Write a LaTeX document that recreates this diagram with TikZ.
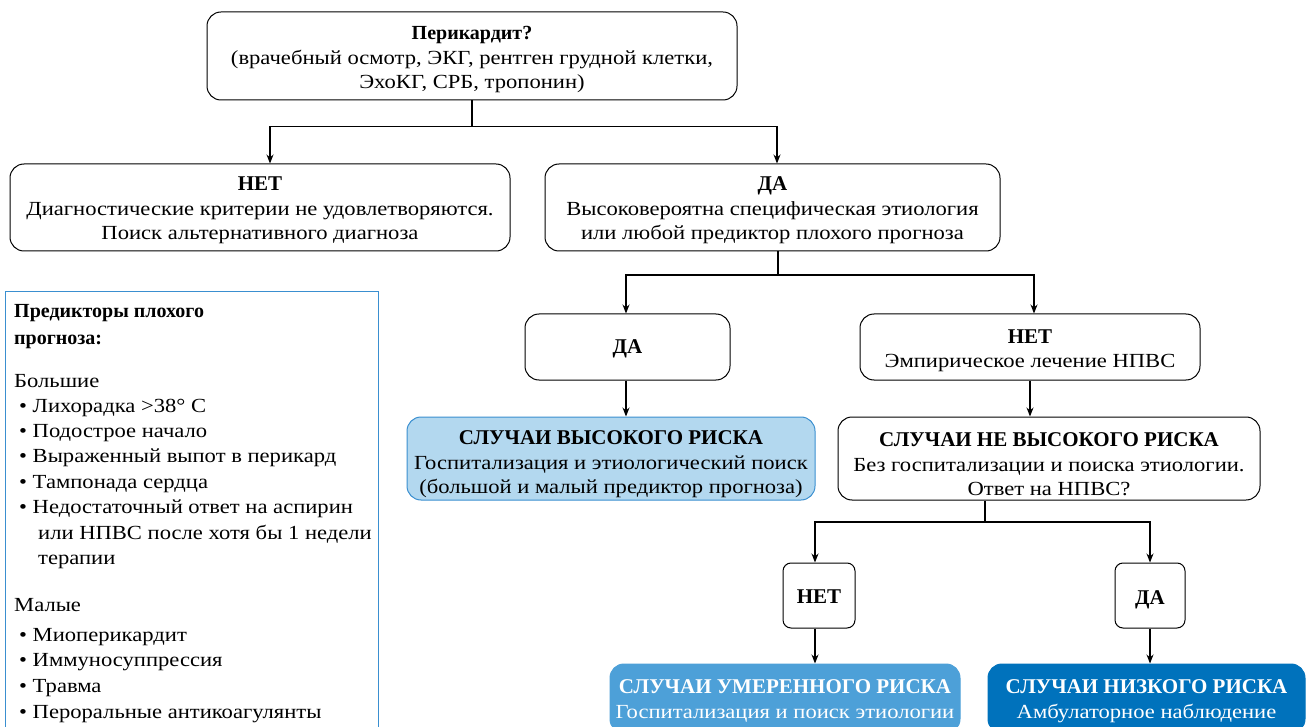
\documentclass[tikz,border=0pt]{standalone}
\usepackage{fontspec}
\setmainfont{Liberation Serif}[FakeStretch=1.13, BoldFeatures={FakeStretch=1.0}]
\usetikzlibrary{arrows.meta,calc}
\definecolor{lineblue}{HTML}{3A8FD0}
\definecolor{hifill}{HTML}{B3D8EF}
\definecolor{modfill}{HTML}{4DA0D8}
\definecolor{lowfill}{HTML}{0072BC}
\newcommand\hd[1]{{\fontsize{21}{24.5}\selectfont\bfseries #1}}
\tikzset{
  box/.style={draw=black, line width=1pt, rounded corners=14pt, inner sep=0pt},
  hibox/.style={box, draw=lineblue, fill=hifill},
  modbox/.style={box, draw=modfill, fill=modfill},
  lowbox/.style={box, draw=lowfill, fill=lowfill},
  txt/.style={align=center, inner sep=0pt, font=\fontsize{20}{24.5}\selectfont},
  wtxt/.style={txt, text=white},
  conn/.style={draw=black, line width=1.1pt},
  arr/.style={conn, -{Stealth[length=9pt,width=7pt]}},
  leg/.style={anchor=base west, inner sep=0pt, font=\fontsize{20}{25}\selectfont},
}
\begin{document}
\begin{tikzpicture}[x=1pt,y=-1pt]
\useasboundingbox (0,0) rectangle (1309,727);
% main boxes
\node[box, minimum width=530, minimum height=88] (top) at (472,56) {};
\node[txt] (top-t) at ($(top.center)+(0,4)$)
  {{\bfseries Перикардит?}\\(врачебный осмотр, ЭКГ, рентген грудной клетки,\\ЭхоКГ, СРБ, тропонин)};
\node[box, minimum width=500, minimum height=87] (no1) at (260,207.5) {};
\node[txt] (no1-t) at ($(no1.center)+(0,3)$)
  {\hd{НЕТ}\\Диагностические критерии не удовлетворяются.\\Поиск альтернативного диагноза};
\node[box, minimum width=455, minimum height=87] (yes1) at (772.5,207.5) {};
\node[txt] (yes1-t) at ($(yes1.center)+(0,3)$)
  {\hd{ДА}\\Высоковероятна специфическая этиология\\или любой предиктор плохого прогноза};
\node[box, minimum width=205, minimum height=66] (yes2) at (627.5,347) {};
\node[txt] (yes2-t) at ($(yes2.center)+(0,2)$) {\hd{ДА}};
\node[box, minimum width=340, minimum height=66] (no2) at (1030,347) {};
\node[txt] (no2-t) at ($(no2.center)+(0,4)$) {\hd{НЕТ}\\Эмпирическое лечение НПВС};
\node[hibox, minimum width=408, minimum height=83] (high) at (611,458.5) {};
\node[txt] (high-t) at ($(high.center)+(0,6)$)
  {\hd{СЛУЧАИ ВЫСОКОГО РИСКА}\\Госпитализация и этиологический поиск\\(большой и малый предиктор прогноза)};
\node[box, minimum width=422, minimum height=83] (nonhigh) at (1049,458.5) {};
\node[txt] (nonhigh-t) at ($(nonhigh.center)+(0,6)$)
  {\hd{СЛУЧАИ НЕ ВЫСОКОГО РИСКА}\\Без госпитализации и поиска этиологии.\\Ответ на НПВС?};
\node[box, rounded corners=8pt, minimum width=72, minimum height=65] (no3) at (819,595.5) {};
\node[txt] (no3-t) at ($(no3.center)+(0,1)$) {\hd{НЕТ}};
\node[box, rounded corners=8pt, minimum width=70, minimum height=65] (yes3) at (1150,595.5) {};
\node[txt] (yes3-t) at ($(yes3.center)+(0,4)$) {\hd{ДА}};
\node[modbox, minimum width=350, minimum height=69] (mod) at (785,698.5) {};
\node[wtxt] (mod-t) at ($(mod.center)+(0,2.5)$)
  {\hd{СЛУЧАИ УМЕРЕННОГО РИСКА}\\Госпитализация и поиск этиологии};
\node[lowbox, minimum width=317, minimum height=69] (low) at (1146.5,698.5) {};
\node[wtxt] (low-t) at ($(low.center)+(0,2.5)$)
  {\hd{СЛУЧАИ НИЗКОГО РИСКА}\\Амбулаторное наблюдение};
% connectors
\coordinate (j1) at ($(top.south)+(0,26)$);
\coordinate (j2) at (778,275);
\coordinate (j3) at (985,522);
\draw[conn] (top.south) -- (j1);
\draw[arr] (j1) -| ([xshift=10pt]no1.north);
\draw[arr] (j1) -| ([xshift=4.5pt]yes1.north);
\draw[conn] ([xshift=5.5pt]yes1.south) -- (j2);
\draw[arr] (j2) -| ([xshift=-1.5pt]yes2.north);
\draw[arr] (j2) -| ([xshift=4pt]no2.north);
\draw[arr] ([xshift=-1.5pt]yes2.south) -- ([xshift=-1.5pt]yes2.south |- high.north);
\draw[arr] (no2.south) -- (no2.south |- high.north);
\draw[conn] (j3 |- nonhigh.south) -- (j3);
\draw[arr] (j3) -| ([xshift=-4pt]no3.north);
\draw[arr] (j3) -| (yes3.north);
\draw[arr] ([xshift=-4pt]no3.south) -- ([xshift=-4pt]no3.south |- mod.north);
\draw[arr] (yes3.south) -- (yes3.south |- low.north);
% legend
\node[draw=lineblue, line width=1.1pt, minimum width=373, minimum height=460, anchor=north west, inner sep=0pt] (legend) at (5,291) {};
\node[leg, font=\fontsize{20}{24}\selectfont\bfseries] (l1) at (14,317) {Предикторы плохого};
\node[leg, font=\fontsize{20}{24}\selectfont\bfseries] (l2) at (14,344) {прогноза:};
\node[leg] (l3) at (14,387) {Большие};
\node[leg] (b1) at (19,412) {\textbullet\ Лихорадка >38° С};
\node[leg] (b2) at (19,437) {\textbullet\ Подострое начало};
\node[leg] (b3) at (19,462) {\textbullet\ Выраженный выпот в перикард};
\node[leg] (b4) at (19,488) {\textbullet\ Тампонада сердца};
\node[leg] (b5) at (19,513) {\textbullet\ Недостаточный ответ на аспирин};
\node[leg] (b5b) at (38,539) {или НПВС после хотя бы 1 недели};
\node[leg] (b5c) at (38,564) {терапии};
\node[leg] (l4) at (14,611) {Малые};
\node[leg] (m1) at (19,641) {\textbullet\ Миоперикардит};
\node[leg] (m2) at (19,666) {\textbullet\ Иммуносуппрессия};
\node[leg] (m3) at (19,692) {\textbullet\ Травма};
\node[leg] (m4) at (19,718) {\textbullet\ Пероральные антикоагулянты};
\end{tikzpicture}
\end{document}
